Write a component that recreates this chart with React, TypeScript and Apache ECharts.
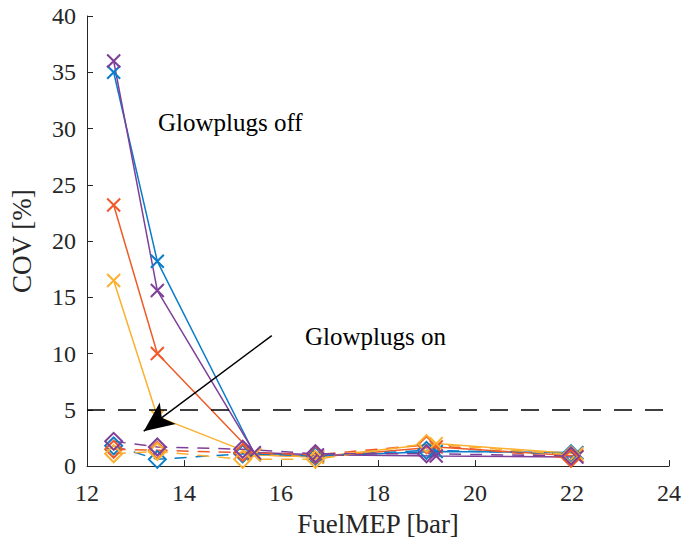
import React, { useEffect, useRef } from "react";
import * as echarts from "echarts";

// Glowplugs off (crosses, solid)
const offBlue = [[12.55, 35.0], [13.45, 18.2], [15.45, 1.1], [16.75, 0.9], [19.2, 1.3], [22.1, 1.2]];
const offOrange = [[12.55, 23.2], [13.45, 10.0], [15.45, 1.0], [16.75, 0.8], [19.2, 1.7], [22.1, 0.9]];
const offYellow = [[12.55, 16.5], [13.45, 4.4], [15.45, 1.0], [16.75, 0.8], [19.2, 2.0], [22.1, 1.1]];
const offPurple = [[12.55, 36.0], [13.45, 15.6], [15.45, 1.2], [16.75, 1.0], [19.2, 0.9], [22.1, 0.8]];

// Glowplugs on (diamonds, dashed)
const onBlue = [[12.55, 1.8], [13.45, 0.6], [15.21, 1.1], [16.71, 0.9], [19.0, 1.4], [21.98, 1.1]];
const onOrange = [[12.55, 1.5], [13.45, 1.4], [15.21, 1.2], [16.71, 1.0], [19.0, 1.9], [21.98, 0.7]];
const onYellow = [[12.55, 1.1], [13.45, 1.3], [15.21, 0.6], [16.71, 0.6], [19.0, 2.0], [21.98, 1.0]];
const onPurple = [[12.55, 2.2], [13.45, 1.7], [15.21, 1.5], [16.71, 1.1], [19.0, 1.1], [21.98, 0.9]];

const threshold = 5;
const arrowStart = [15.81, 11.6];
const arrowEnd = [13.17, 3.1];

const colors = { blue: "#0a7cc8", orange: "#f05a28", yellow: "#fbb030", purple: "#7e3f98" };
const FONT = "Liberation Serif";
const AXC = "#262626";
const CROSS = "path://M0,0L10,10M10,0L0,10";

function offSeries(name: string, data: number[][], color: string, extra: any = {}) {
  return {
    name,
    type: "line",
    data,
    symbol: CROSS,
    symbolSize: 13,
    lineStyle: { color, width: 1.5, type: "solid" },
    itemStyle: { color: "none", borderColor: color, borderWidth: 2 },
    ...extra,
  };
}

function onSeries(name: string, data: number[][], color: string) {
  return {
    name,
    type: "line",
    data,
    symbol: "diamond",
    symbolSize: 17,
    lineStyle: { color, width: 1.5, type: [12, 9] },
    itemStyle: { color: "none", borderColor: color, borderWidth: 2 },
  };
}

export default function App() {
  const ref = useRef<HTMLDivElement>(null);
  useEffect(() => {
    if (!ref.current) return;
    const chart = echarts.init(ref.current, null, { renderer: "svg" });
    chart.setOption({
      animation: false,
      backgroundColor: "#fff",
      textStyle: { fontFamily: FONT },
      grid: { left: 85, right: 13, top: 16, bottom: 74, containLabel: false },
      xAxis: {
        type: "value",
        min: 12,
        max: 24,
        interval: 2,
        name: "FuelMEP [bar]",
        nameLocation: "middle",
        nameGap: 40,
        nameTextStyle: { fontFamily: FONT, fontSize: 27, color: AXC },
        axisLine: { show: true, lineStyle: { color: AXC, width: 1 } },
        axisTick: { show: true, inside: true, length: 6, lineStyle: { color: AXC } },
        axisLabel: { fontFamily: FONT, fontSize: 24, color: AXC, margin: 15 },
        splitLine: { show: false },
      },
      yAxis: {
        type: "value",
        min: 0,
        max: 40,
        interval: 5,
        name: "COV [%]",
        nameLocation: "middle",
        nameGap: 52,
        nameRotate: 90,
        nameTextStyle: { fontFamily: FONT, fontSize: 27, color: AXC },
        axisLine: { show: true, lineStyle: { color: AXC, width: 1 } },
        axisTick: { show: true, inside: true, length: 6, lineStyle: { color: AXC } },
        axisLabel: { fontFamily: FONT, fontSize: 24, color: AXC, margin: 11 },
        splitLine: { show: false },
      },
      series: [
        offSeries("Off blue", offBlue, colors.blue, {
          markLine: {
            silent: true,
            symbol: "none",
            label: { show: false },
            lineStyle: { color: "#000", width: 1.5, type: [18, 13] },
            data: [{ yAxis: threshold }],
          },
        }),
        offSeries("Off orange", offOrange, colors.orange),
        offSeries("Off yellow", offYellow, colors.yellow),
        offSeries("Off purple", offPurple, colors.purple),
        onSeries("On blue", onBlue, colors.blue),
        onSeries("On orange", onOrange, colors.orange),
        onSeries("On yellow", onYellow, colors.yellow),
        {
          ...onSeries("On purple", onPurple, colors.purple),
          markLine: {
            silent: true,
            symbol: ["none", "arrow"],
            symbolSize: [20, 30],
            label: { show: false },
            lineStyle: { color: "#000", width: 1.5, type: "solid" },
            data: [[{ coord: arrowStart }, { coord: arrowEnd }]],
          },
        },
      ],
      graphic: [
        {
          type: "text",
          left: 158,
          top: 110,
          style: { text: "Glowplugs off", fontFamily: FONT, fontSize: 25, fill: "#000" },
        },
        {
          type: "text",
          left: 305,
          top: 324,
          style: { text: "Glowplugs on", fontFamily: FONT, fontSize: 25, fill: "#000" },
        },
      ],
    });
    return () => chart.dispose();
  }, []);
  return (
    <div
      ref={ref}
      style={{ position: "fixed", left: 0, top: 0, width: 684, height: 542, background: "#fff" }}
    />
  );
}
